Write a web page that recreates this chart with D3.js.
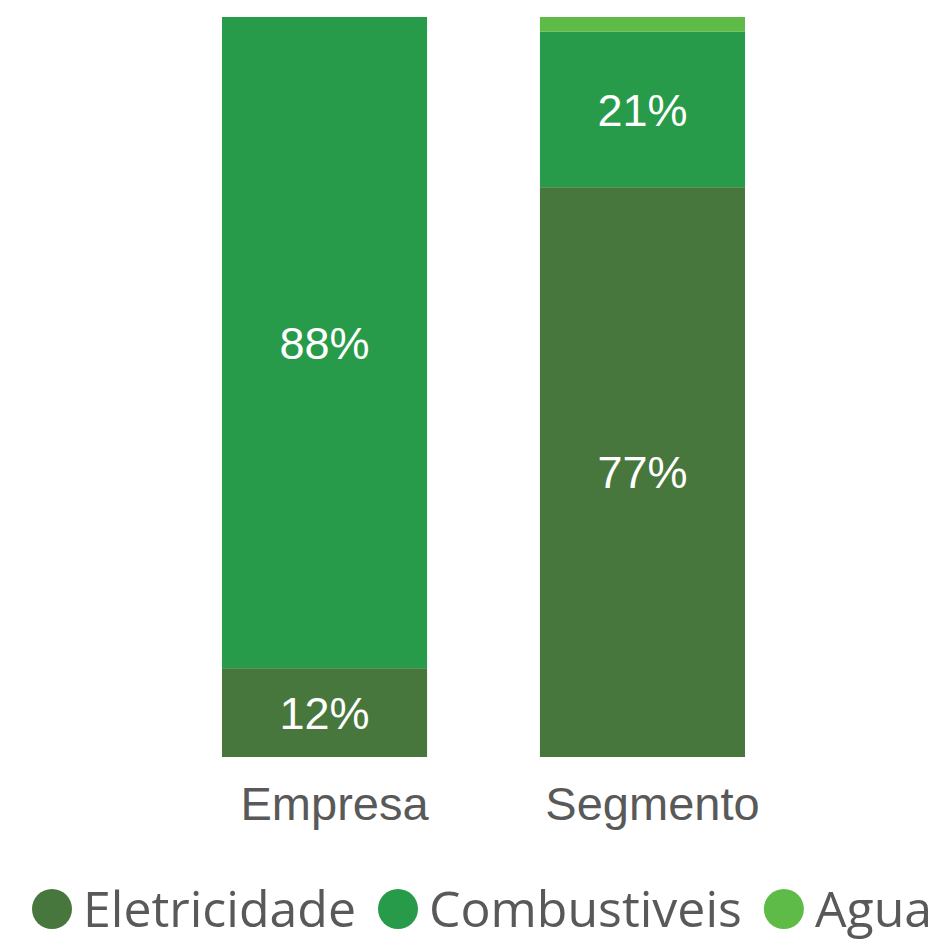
<!DOCTYPE html>
<html>
<head>
<meta charset="utf-8">
<script src="https://cdn.jsdelivr.net/npm/d3@7"></script>
<style>
  body { margin: 0; background: #fff; }
  svg { display: block; }
</style>
</head>
<body>
<svg id="chart" width="943" height="941"></svg>
<script>
// data
var categories = ["Empresa", "Segmento"];
var seriesNames = ["Eletricidade", "Combustiveis", "Agua"];
var eletricidade = [12, 77];
var combustiveis = [88, 21];
var agua = [0, 2];
var colors = ["#47773c", "#289b4a", "#5fbb47"];

var svg = d3.select("#chart");

var rows = categories.map(function(c, i) {
	return { cat: c, Eletricidade: eletricidade[i], Combustiveis: combustiveis[i], Agua: agua[i] };
});
var stacked = d3.stack().keys(seriesNames)(rows);

var x = d3.scaleBand().domain(categories).range([63, 904]).paddingInner(0.355).paddingOuter(0.5);
var y = d3.scaleLinear().domain([0, 100]).range([757, 17]);

var layers = svg.append("g").selectAll("g")
	.data(stacked).enter().append("g")
	.attr("fill", function(d, i) { return colors[i]; });

layers.selectAll("rect")
	.data(function(d) { return d; })
	.enter().append("rect")
	.attr("x", function(d) { return x(d.data.cat); })
	.attr("width", x.bandwidth())
	.attr("y", function(d) { return y(d[1]); })
	.attr("height", function(d) { return y(d[0]) - y(d[1]); });

// percent labels (only for segments big enough)
layers.selectAll("text")
	.data(function(d) { return d.filter(function(s) { return (s[1] - s[0]) >= 5; }); })
	.enter().append("text")
	.attr("x", function(d) { return x(d.data.cat) + x.bandwidth() / 2; })
	.attr("y", function(d) { return (y(d[0]) + y(d[1])) / 2; })
	.attr("dy", "0.36em")
	.attr("text-anchor", "middle")
	.attr("fill", "#ffffff")
	.style("font-family", "'Liberation Sans', Arial, sans-serif")
	.style("font-size", "45px")
	.text(function(d) { return Math.round(d[1] - d[0]) + "%"; });

// category axis (labels sit a bit right of bar centre, as in the original)
var xAxis = d3.axisBottom(x).tickSize(0).tickPadding(0);
var gx = svg.append("g").attr("transform", "translate(10,786)").call(xAxis);
gx.select(".domain").remove();
gx.selectAll("text")
	.attr("dy", "0.72em")
	.attr("fill", "#595959")
	.style("font-family", "'Liberation Sans', Arial, sans-serif")
	.style("font-size", "47px");

// legend
var legend = svg.append("g").attr("transform", "translate(0,909)");
var lx = 32;
seriesNames.forEach(function(name, i) {
	var g = legend.append("g").attr("transform", "translate(" + lx + ",0)");
	g.append("circle").attr("cx", 20).attr("cy", 0).attr("r", 20).attr("fill", colors[i]);
	var t = g.append("text")
		.attr("x", 51)
		.attr("y", 18)
		.attr("fill", "#595959")
		.style("font-family", "'Open Sans', 'Noto Sans', sans-serif")
		.style("font-size", "50px")
		.text(name);
	lx += 51 + t.node().getComputedTextLength() + 22;
});
</script>
</body>
</html>
